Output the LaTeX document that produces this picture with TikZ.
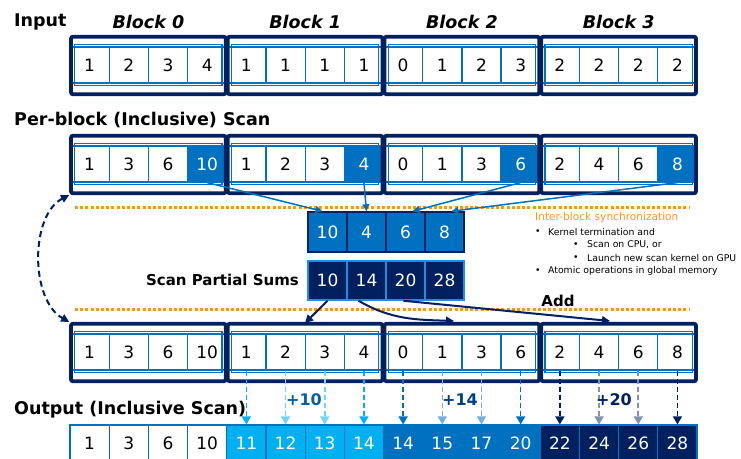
\documentclass[tikz,border=0pt]{standalone}
\usepackage{fontspec}
\setmainfont{DejaVu Sans}
\usetikzlibrary{arrows.meta}
\definecolor{navy}{HTML}{002060}
\definecolor{mblue}{HTML}{0070C0}
\definecolor{lblue}{HTML}{00B0F0}
\definecolor{sblue}{HTML}{1E8FE0}
\definecolor{orng}{HTML}{F7981D}
\begin{document}
\begin{tikzpicture}[x=1pt,y=-1pt,
  cell/.style={draw=mblue, line width=1.2pt, minimum width=39.19pt, minimum height=36pt, inner sep=0pt, font=\fontsize{17}{17}\selectfont},
  wc/.style={cell, fill=white, text=black},
  hc/.style={cell, fill=mblue, text=white},
  lc/.style={cell, fill=lblue, text=white},
  nc/.style={cell, fill=navy, text=white},
  frame/.style={draw=navy, line width=3.8pt, rounded corners=2pt, minimum width=154.75pt, minimum height=57.5pt, inner sep=0pt},
  strip/.style={draw=mblue, line width=1.2pt},
  title/.style={font=\fontsize{17.5}{17.5}\selectfont\bfseries, inner sep=0pt, anchor=west},
  blocklbl/.style={font=\fontsize{17.5}{17.5}\selectfont\bfseries\itshape, inner sep=0pt},
  sumcell/.style={minimum width=39pt, minimum height=40pt, inner sep=0pt, line width=1.5pt, text=white, font=\fontsize{17}{17}\selectfont},
  bsum/.style={sumcell, fill=mblue, draw=navy},
  psum/.style={sumcell, fill=navy, draw=sblue, minimum height=39pt},
  barrow/.style={mblue, line width=1.5pt, -{Triangle[length=7pt,width=7pt]}},
  narrow/.style={navy, line width=2pt, -{Triangle[length=8pt,width=8pt]}},
  darrow/.style={line width=1.6pt, dash pattern=on 5pt off 3pt, -{Triangle[length=8pt,width=9pt]}},
  sync/.style={orng, line width=3pt, dash pattern=on 3pt off 2.2pt},
  bul/.style={font=\fontsize{9.3}{10}\selectfont, inner sep=0pt, anchor=west},
  plus/.style={font=\fontsize{16}{16}\selectfont\bfseries, inner sep=0pt}
]
\useasboundingbox (0,0) rectangle (741,458);

% ---------- titles ----------
\node[title] (tIn) at (14,22) {Input};
\node[title] (tPB) at (14,120) {Per-block (Inclusive) Scan};
\node[title] (tOut) at (14,410) {Output (Inclusive Scan)};
\foreach \b in {0,1,2,3}{
  \node[blocklbl] (bl\b) at ({70+(\b+0.5)*156.75},22) {Block \b};
}

% ---------- input row ----------
\foreach \v [count=\k from 0] in {1,2,3,4,1,1,1,1,0,1,2,3,2,2,2,2}{
  \node[wc] (I-\k) at ({70+(\k+0.5)*39.19},65) {\v};
}
% ---------- per-block row ----------
\foreach \v/\s [count=\k from 0] in {1/wc,3/wc,6/wc,10/hc,1/wc,2/wc,3/wc,4/hc,0/wc,1/wc,3/wc,6/hc,2/wc,4/wc,6/wc,8/hc}{
  \node[\s] (P-\k) at ({70+(\k+0.5)*39.19},164) {\v};
}
% ---------- third row ----------
\foreach \v [count=\k from 0] in {1,3,6,10,1,2,3,4,0,1,3,6,2,4,6,8}{
  \node[wc] (R-\k) at ({70+(\k+0.5)*39.19},352) {\v};
}
% ---------- output row ----------
\foreach \v/\s [count=\k from 0] in {1/wc,3/wc,6/wc,10/wc,11/lc,12/lc,13/lc,14/lc,14/hc,15/hc,17/hc,20/hc,22/nc,24/nc,26/nc,28/nc}{
  \node[\s] (O-\k) at ({70+(\k+0.5)*39.19},443) {\v};
}

% ---------- strips and frames ----------
\foreach \T/\n in {35/FI,134/FP,322/FR}{
  \foreach \b in {0,1,2,3}{
    \draw[strip] ({70+\b*156.75+4.7},{\T+9.7}) rectangle ({70+(\b+1)*156.75-4.7},{\T+50.5});
    \node[frame] (\n-\b) at ({70+(\b+0.5)*156.75},{\T+30.5}) {};
  }
}

% ---------- synchronization lines ----------
\draw[sync] (75,207) -- (690,207);
\draw[sync] (75,309) -- (690,309);

% ---------- block sums ----------
\foreach \v [count=\i from 0] in {10,4,6,8}{
  \node[bsum] (S-\i) at ({327.5+\i*39},232) {\v};
}
\foreach \v [count=\i from 0] in {10,14,20,28}{
  \node[psum] (T-\i) at ({327.5+\i*39},280.5) {\v};
}
\node[font=\fontsize{15}{15}\selectfont\bfseries, inner sep=0pt, anchor=east] (tPS) at (299,280) {Scan Partial Sums};

% per-block -> block sums
\draw[barrow] (P-3.south) -- ([xshift=-5pt]S-0.north);
\draw[barrow] (P-7.south) -- (S-1.north);
\draw[barrow] (P-11.south) -- ([xshift=7pt]S-2.north);
\draw[barrow] (P-15.south) -- ([xshift=7pt]S-3.north);

% partial sums -> third row
\coordinate (add1) at (305,323);
\coordinate (add2) at (454,321);
\coordinate (add3) at (610,321);
\draw[narrow] (T-0.south) -- (add1);
\draw[narrow] ([xshift=-8pt]T-1.south) to[out=-30,in=178] (add2);
\draw[narrow] ([xshift=-2pt]T-2.south) -- (add3);
\node[font=\fontsize{15}{15}\selectfont\bfseries, inner sep=0pt] (tAdd) at (558,301) {Add};

% dashed double arrow
\draw[navy, line width=2pt, dash pattern=on 6pt off 4pt, {Triangle[length=8pt,width=8pt]}-{Triangle[length=8pt,width=8pt]}]
  (FP-0.south west) .. controls (30,215) and (30,300) .. (FR-0.north west);

% ---------- sync text ----------
\node[font=\fontsize{10.6}{11}\selectfont, text=orng, inner sep=0pt, anchor=west] (sy) at (535,218) {Inter-block synchronization};
\node[bul] (b1d) at (535,232) {•};
\node[bul] (b1) at (548,232) {Kernel termination and};
\node[bul] (b2d) at (573,245) {•};
\node[bul] (b2) at (587,245) {Scan on CPU, or};
\node[bul] (b3d) at (573,258) {•};
\node[bul] (b3) at (587,258) {Launch new scan kernel on GPU};
\node[bul] (b4d) at (535,271) {•};
\node[bul] (b4) at (548,271) {Atomic operations in global memory};

% ---------- add arrows ----------
\foreach \k/\c in {4/lblue,5/lblue!55,6/lblue!55,7/lblue,8/mblue,9/mblue!55,10/mblue!55,11/mblue,12/navy,13/navy!50,14/navy!50,15/navy}{
  \draw[darrow, \c] (R-\k.south) -- (O-\k.north);
}
\node[plus, text=mblue!80!navy] (p10) at (304,400) {+10};
\node[plus, text=mblue!40!navy] (p14) at (460,400) {+14};
\node[plus, text=navy] (p20) at (614,400) {+20};
\end{tikzpicture}
\end{document}
